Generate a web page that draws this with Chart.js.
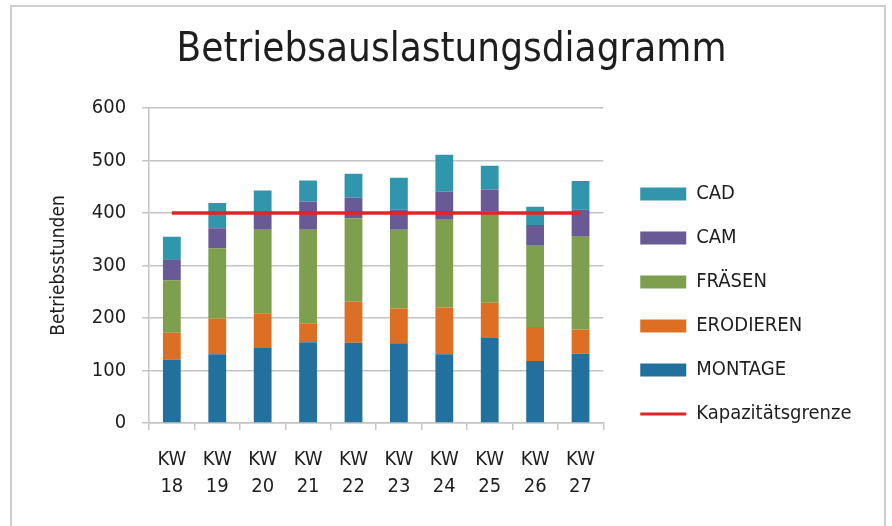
<!DOCTYPE html>
<html>
<head>
<meta charset="utf-8">
<script src="https://cdn.jsdelivr.net/npm/chart.js@4.4.1/dist/chart.umd.min.js"></script>
<style>
  html, body { margin: 0; padding: 0; background: #fff; }
  #wrap { position: relative; width: 892px; height: 526px; }
  #frame { position: absolute; left: 10px; top: 5px; width: 872px; height: 530px;
           border: 2px solid #cfcfcf; pointer-events: none; }
</style>
</head>
<body>
<div id="wrap">
  <canvas id="chart-load" width="892" height="526"></canvas>
  <div id="frame"></div>
</div>
<script>
/* Betriebsauslastung KW 18-27 */

var weeks     = ['18', '19', '20', '21', '22', '23', '24', '25', '26', '27'];
var montage   = [121, 131, 143, 154, 153, 152, 131, 162, 118, 132];
var erodieren = [51, 68, 66, 36, 78, 66, 89, 67, 65, 46];
var fraesen   = [100, 134, 159, 178, 159, 150, 167, 174, 156, 177];
var cam       = [40, 38, 34, 54, 39, 38, 54, 42, 38, 51];
var cad       = [43, 48, 41, 40, 46, 61, 70, 45, 35, 55];
var capacity  = [400, 400, 400, 400, 400, 400, 400, 400, 400, 400];
var yTicks    = [0, 100, 200, 300, 400, 500, 600];

var INK   = '#1e1e1e';
var GRID  = '#c4c4c4';
var FONT  = "'DejaVu Sans Condensed', 'Liberation Sans Narrow', 'Roboto', sans-serif";

var BLUE   = '#22709e';
var ORANGE = '#dc6f24';
var GREEN  = '#7e9f4d';
var PURPLE = '#675a95';
var TEAL   = '#3096ac';
var RED    = '#e3222a';

function bar(label, values, color) {
  return {
    label: label,
    data: values,
    backgroundColor: color,
    borderWidth: 0,
    barPercentage: 0.8,
    categoryPercentage: 0.49
  };
}

var legendRank = { 'CAD': 0, 'CAM': 1, 'FRÄSEN': 2, 'ERODIEREN': 3, 'MONTAGE': 4, 'Kapazitätsgrenze': 5 };

// legend: a bit more room on the right, and moved a little away from the plot
var legendTweak = {
  id: 'legendTweak',
  beforeLayout: function(chart) {
    var lg = chart.legend;
    if (lg && !lg._patched) {
      var fit = lg.fit;
      lg.fit = function() { fit.call(this); this.width += 50; };
      lg._patched = true;
    }
  },
  afterLayout: function(chart) {
    var lg = chart.legend;
    if (!lg) return;
    lg.left += 13; lg.right += 13;
    lg.top += 46; lg.bottom += 46;
  }
};

new Chart(document.getElementById('chart-load'), {
  type: 'bar',
  data: {
    labels: weeks.map(function(w) { return ['KW', w]; }),
    datasets: [
      bar('MONTAGE', montage, BLUE),
      bar('ERODIEREN', erodieren, ORANGE),
      bar('FRÄSEN', fraesen, GREEN),
      bar('CAM', cam, PURPLE),
      bar('CAD', cad, TEAL),
      {
        type: 'line',
        label: 'Kapazitätsgrenze',
        data: capacity,
        stack: 'cap',
        order: -1,
        borderColor: RED,
        backgroundColor: RED,
        borderWidth: 3.5,
        pointRadius: 0,
        fill: false
      }
    ]
  },
  plugins: [legendTweak],
  options: {
    responsive: false,
    animation: false,
    layout: { padding: { left: 48, right: 37, top: 0, bottom: 10 } },
    plugins: {
      tooltip: { enabled: false },
      title: {
        display: true,
        text: 'Betriebsauslastungsdiagramm',
        color: INK,
        font: { family: FONT, size: 40, weight: 'normal' },
        padding: { top: 27, bottom: 33 }
      },
      legend: {
        position: 'right',
        align: 'center',
        labels: {
          color: INK,
          font: { family: FONT, size: 20 },
          usePointStyle: true,
          pointStyleWidth: 46,
          boxHeight: 13,
          padding: 24,
          sort: function(a, b) { return legendRank[a.text] - legendRank[b.text]; },
          generateLabels: function(chart) {
            var items = Chart.defaults.plugins.legend.labels.generateLabels(chart);
            items.forEach(function(it) {
              var ds = chart.data.datasets[it.datasetIndex];
              var isLine = ds.type === 'line';
              it.pointStyle = isLine ? 'line' : 'rect';
              it.fillStyle = ds.backgroundColor;
              it.strokeStyle = ds.borderColor || ds.backgroundColor;
              it.lineWidth = isLine ? 3 : 0;
            });
            return items;
          }
        }
      }
    },
    scales: {
      x: {
        stacked: true,
        grid: { display: true, drawOnChartArea: false, offset: true, color: GRID, lineWidth: 1.5, tickLength: 7 },
        border: { color: GRID, width: 1.5 },
        ticks: { color: INK, font: { family: FONT, size: 20, lineHeight: 1.35 }, maxRotation: 0, padding: 16 }
      },
      y: {
        stacked: true,
        min: 0,
        max: 600,
        afterBuildTicks: function(axis) {
          axis.ticks = yTicks.map(function(v) { return { value: v }; });
        },
        grid: { color: GRID, lineWidth: 1.5, tickLength: 7 },
        border: { color: GRID, width: 1.5 },
        ticks: { color: INK, font: { family: FONT, size: 20 }, padding: 16 },
        title: {
          display: true,
          text: 'Betriebsstunden',
          color: INK,
          font: { family: FONT, size: 19 },
          padding: { top: 0, bottom: 5 }
        }
      }
    }
  }
});
</script>
</body>
</html>
